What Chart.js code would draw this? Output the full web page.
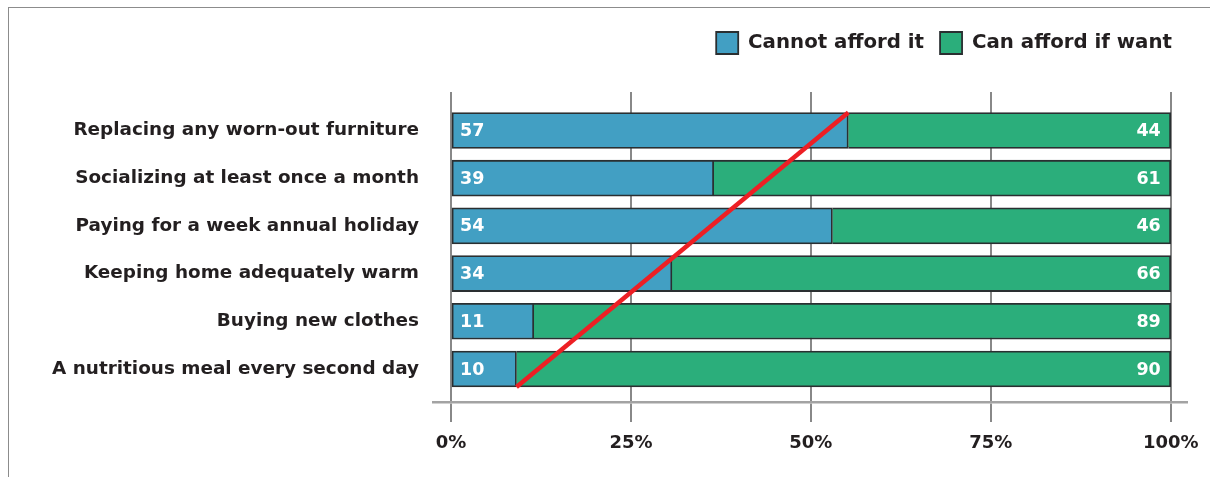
<!DOCTYPE html>
<html>
<head>
<meta charset="utf-8">
<script src="https://cdn.jsdelivr.net/npm/chart.js@4.4.0/dist/chart.umd.min.js"></script>
<style>
  html, body { margin: 0; padding: 0; background: #ffffff; }
  #wrap { position: relative; width: 1210px; height: 477px; overflow: hidden; }
  #frame { position: absolute; left: 8px; top: 7px; width: 1400px; height: 700px;
           border-top: 1px solid #8c8c8c; border-left: 1px solid #8c8c8c; pointer-events: none; }
  canvas { position: absolute; left: 0; top: 0; }
</style>
</head>
<body>
<div id="wrap">
  <canvas id="chart" width="1210" height="477"></canvas>
  <div id="frame"></div>
</div>
<script>
// ---- data ----
const categories = [
  'Replacing any worn-out furniture',
  'Socializing at least once a month',
  'Paying for a week annual holiday',
  'Keeping home adequately warm',
  'Buying new clothes',
  'A nutritious meal every second day'
];
const seriesNames = ['Cannot afford it', 'Can afford if want'];
// bar lengths as drawn (percent)
const cannotAfford = [55.2, 36.5, 53.0, 30.7, 11.5, 9.1];
const canAfford    = [44.8, 63.5, 47.0, 69.3, 88.5, 90.9];
// numbers printed on the bars
const cannotLabels = ['57', '39', '54', '34', '11', '10'];
const canLabels    = ['44', '61', '46', '66', '89', '90'];
const xTickValues = [0, 25, 50, 75, 100];
const xTickLabels = ['0%', '25%', '50%', '75%', '100%'];

// ---- style ----
const FONT = "'DejaVu Sans', sans-serif";
const TEXT = '#231f20';
const BLUE = '#429fc3';
const GREEN = '#2bae7b';
const EDGE = '#2a2f31';
const HALF_BAR = 0.377; // half bar thickness in index units

const barLabels = {
  id: 'barLabels',
  afterDatasetsDraw(chart) {
    const ctx = chart.ctx;
    ctx.save();
    ctx.fillStyle = '#ffffff';
    ctx.font = "bold 17.5px " + FONT;
    ctx.textBaseline = 'middle';
    const m0 = chart.getDatasetMeta(1);
    const m1 = chart.getDatasetMeta(2);
    m0.data.forEach((el, i) => {
      ctx.textAlign = 'left';
      ctx.fillText(cannotLabels[i], el.base + 8, el.y + 1);
    });
    m1.data.forEach((el, i) => {
      ctx.textAlign = 'right';
      ctx.fillText(canLabels[i], el.x - 10, el.y + 1);
    });
    ctx.restore();
  }
};

new Chart(document.getElementById('chart'), {
  data: {
    datasets: [
      {
        type: 'line',
        label: 'trend',
        data: [
          { x: cannotAfford[5], y: 5 + HALF_BAR },
          { x: cannotAfford[0], y: 0 - HALF_BAR }
        ],
        borderColor: '#ed1f24',
        borderWidth: 4.5,
        pointRadius: 0,
        fill: false,
        stack: 'trend',
        order: 0
      },
      {
        type: 'bar',
        label: seriesNames[0],
        data: cannotAfford.map((v, i) => ({ x: v, y: i })),
        backgroundColor: BLUE,
        borderColor: EDGE,
        borderWidth: 1.8,
        borderSkipped: false,
        barThickness: 36,
        stack: 'bars',
        order: 1
      },
      {
        type: 'bar',
        label: seriesNames[1],
        data: canAfford.map((v, i) => ({ x: v, y: i })),
        backgroundColor: GREEN,
        borderColor: EDGE,
        borderWidth: 1.8,
        borderSkipped: 'start',
        barThickness: 36,
        stack: 'bars',
        order: 1
      }
    ]
  },
  options: {
    indexAxis: 'y',
    responsive: false,
    animation: false,
    layout: { padding: { top: 16, right: 22, bottom: 0, left: 0 } },
    scales: {
      x: {
        type: 'linear',
        stacked: true,
        min: -2.5,
        max: 102.2,
        afterBuildTicks(scale) { scale.ticks = xTickValues.map(v => ({ value: v })); },
        afterFit(scale) { scale.height = 75; },
        grid: { color: '#888888', lineWidth: 2, tickLength: 20, drawTicks: true },
        border: { display: true, color: '#a3a3a3', width: 2.5 },
        ticks: {
          padding: 11,
          color: TEXT,
          font: { family: FONT, weight: 'bold', size: 18 },
          callback: (v) => xTickLabels[xTickValues.indexOf(v)]
        }
      },
      y: {
        type: 'linear',
        stacked: true,
        reverse: true,
        offset: false,
        min: -0.807,
        max: 5.692,
        afterBuildTicks(scale) { scale.ticks = categories.map((c, i) => ({ value: i })); },
        afterFit(scale) { scale.width = 433; },
        grid: { display: false, drawTicks: false, offset: false },
        border: { display: false },
        ticks: {
          padding: 14,
          autoSkip: false,
          color: TEXT,
          font: { family: FONT, weight: 'bold', size: 18.4 },
          callback: (v) => categories[v]
        }
      }
    },
    plugins: {
      legend: {
        position: 'top',
        align: 'end',
        labels: {
          filter: (item) => item.datasetIndex !== 0,
          boxWidth: 22,
          boxHeight: 22,
          padding: 16,
          color: TEXT,
          font: { family: FONT, weight: 'bold', size: 19.8 }
        }
      },
      subtitle: {
        display: true,
        text: '',
        position: 'top',
        weight: 500,
        padding: 0,
        font: { size: 10, lineHeight: '28px' }
      },
      tooltip: { enabled: false }
    }
  },
  plugins: [barLabels]
});
</script>
</body>
</html>
